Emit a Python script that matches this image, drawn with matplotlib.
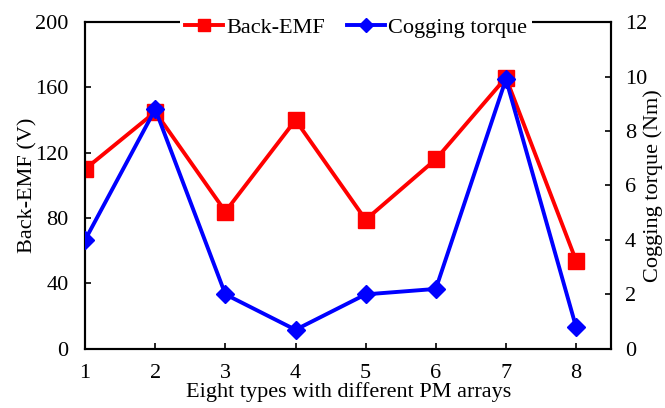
import matplotlib.pyplot as plt
import numpy as np

plt.rcParams['font.family'] = ['Liberation Serif', 'DejaVu Serif']
plt.rcParams['font.size'] = 16

types = [1, 2, 3, 4, 5, 6, 7, 8]
back_emf = [110, 145, 84, 140, 79, 116, 166, 54]
cogging = [4.0, 8.8, 2.0, 0.7, 2.0, 2.2, 9.9, 0.8]

fig = plt.figure(figsize=(6.65, 4.08), dpi=100)
ax = fig.add_subplot(111)
fig.subplots_adjust(left=0.128, right=0.919, top=0.946, bottom=0.145)
ax2 = ax.twinx()

l1, = ax.plot(types, back_emf, color='#ff0000', lw=2.8, marker='s', ms=12, label='Back-EMF', zorder=3)
l2, = ax2.plot(types, cogging, color='#0000ff', lw=2.8, marker='D', ms=9, label='Cogging torque', zorder=3)

ax.set_xlim(1, 8.5)
ax.set_ylim(0, 200)
ax2.set_ylim(0, 12)
ax.set_xticks(types)
ax.set_yticks(np.arange(0, 201, 40))
ax2.set_yticks(np.arange(0, 13, 2))

for a in (ax, ax2):
    a.tick_params(direction='in', length=4, width=1.2)
    for s in a.spines.values():
        s.set_linewidth(1.5)
ax.tick_params(axis='x', pad=11)
ax.tick_params(axis='y', pad=12)
ax2.tick_params(axis='y', pad=10)

ax.set_xlabel('Eight types with different PM arrays', labelpad=-1)
ax.set_ylabel('Back-EMF (V)', labelpad=-2)
ax2.set_ylabel('Cogging torque (Nm)', labelpad=-3)

leg = ax2.legend([l1, l2], ['Back-EMF', 'Cogging torque'], loc='center',
                 bbox_to_anchor=(0.515, 0.983), ncol=2, frameon=True, fancybox=False,
                 edgecolor='none', framealpha=1, handlelength=1.7, handletextpad=0.15,
                 columnspacing=1.0, borderpad=0.2, markerscale=0.75)

fig.savefig('out.png', dpi=100)
